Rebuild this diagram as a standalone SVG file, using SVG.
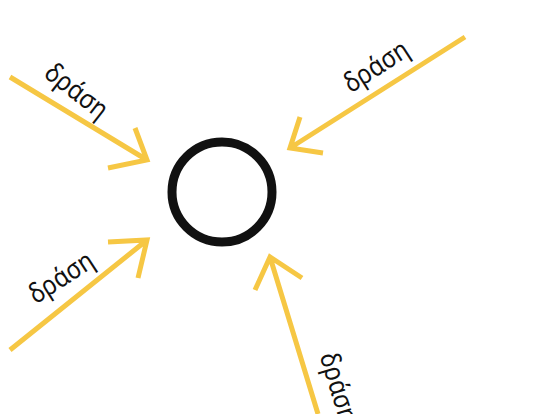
<svg xmlns="http://www.w3.org/2000/svg" width="549" height="414" viewBox="0 0 549 414">
<style>
.a{fill:none;stroke:#F6C744;stroke-width:5;stroke-linecap:butt;stroke-linejoin:miter}
.t{font-family:"Noto Sans","Open Sans",sans-serif;font-size:27px;fill:#111;text-anchor:middle}
</style>
<rect width="549" height="414" fill="#fff"/>
<g id="connectors">
<path class="a" d="M10,77 L147,160 M135,128 L147,160 L108,168"/>
<path class="a" d="M465,37 L290,148 M300,117 L290,148 L323,153"/>
<path class="a" d="M10,350 L147,240 M108,242 L147,240 L138,278"/>
<path class="a" d="M318,414 L270,257 M255,290 L270,257 L302,278"/>
</g>
<g id="node-body"><circle cx="222" cy="192" r="50" fill="none" stroke="#111" stroke-width="9"/></g>
<g id="label1"><text class="t" transform="translate(71,98) rotate(38) scale(0.88,1)">δράση</text></g>
<g id="label2"><text class="t" transform="translate(381,74) rotate(-33) scale(0.88,1)">δράση</text></g>
<g id="label3"><text class="t" transform="translate(66,285) rotate(-33) scale(0.88,1)">δράση</text></g>
<g id="label4"><text class="t" transform="translate(330,390) rotate(73) scale(0.88,1)">δράση</text></g>
</svg>
